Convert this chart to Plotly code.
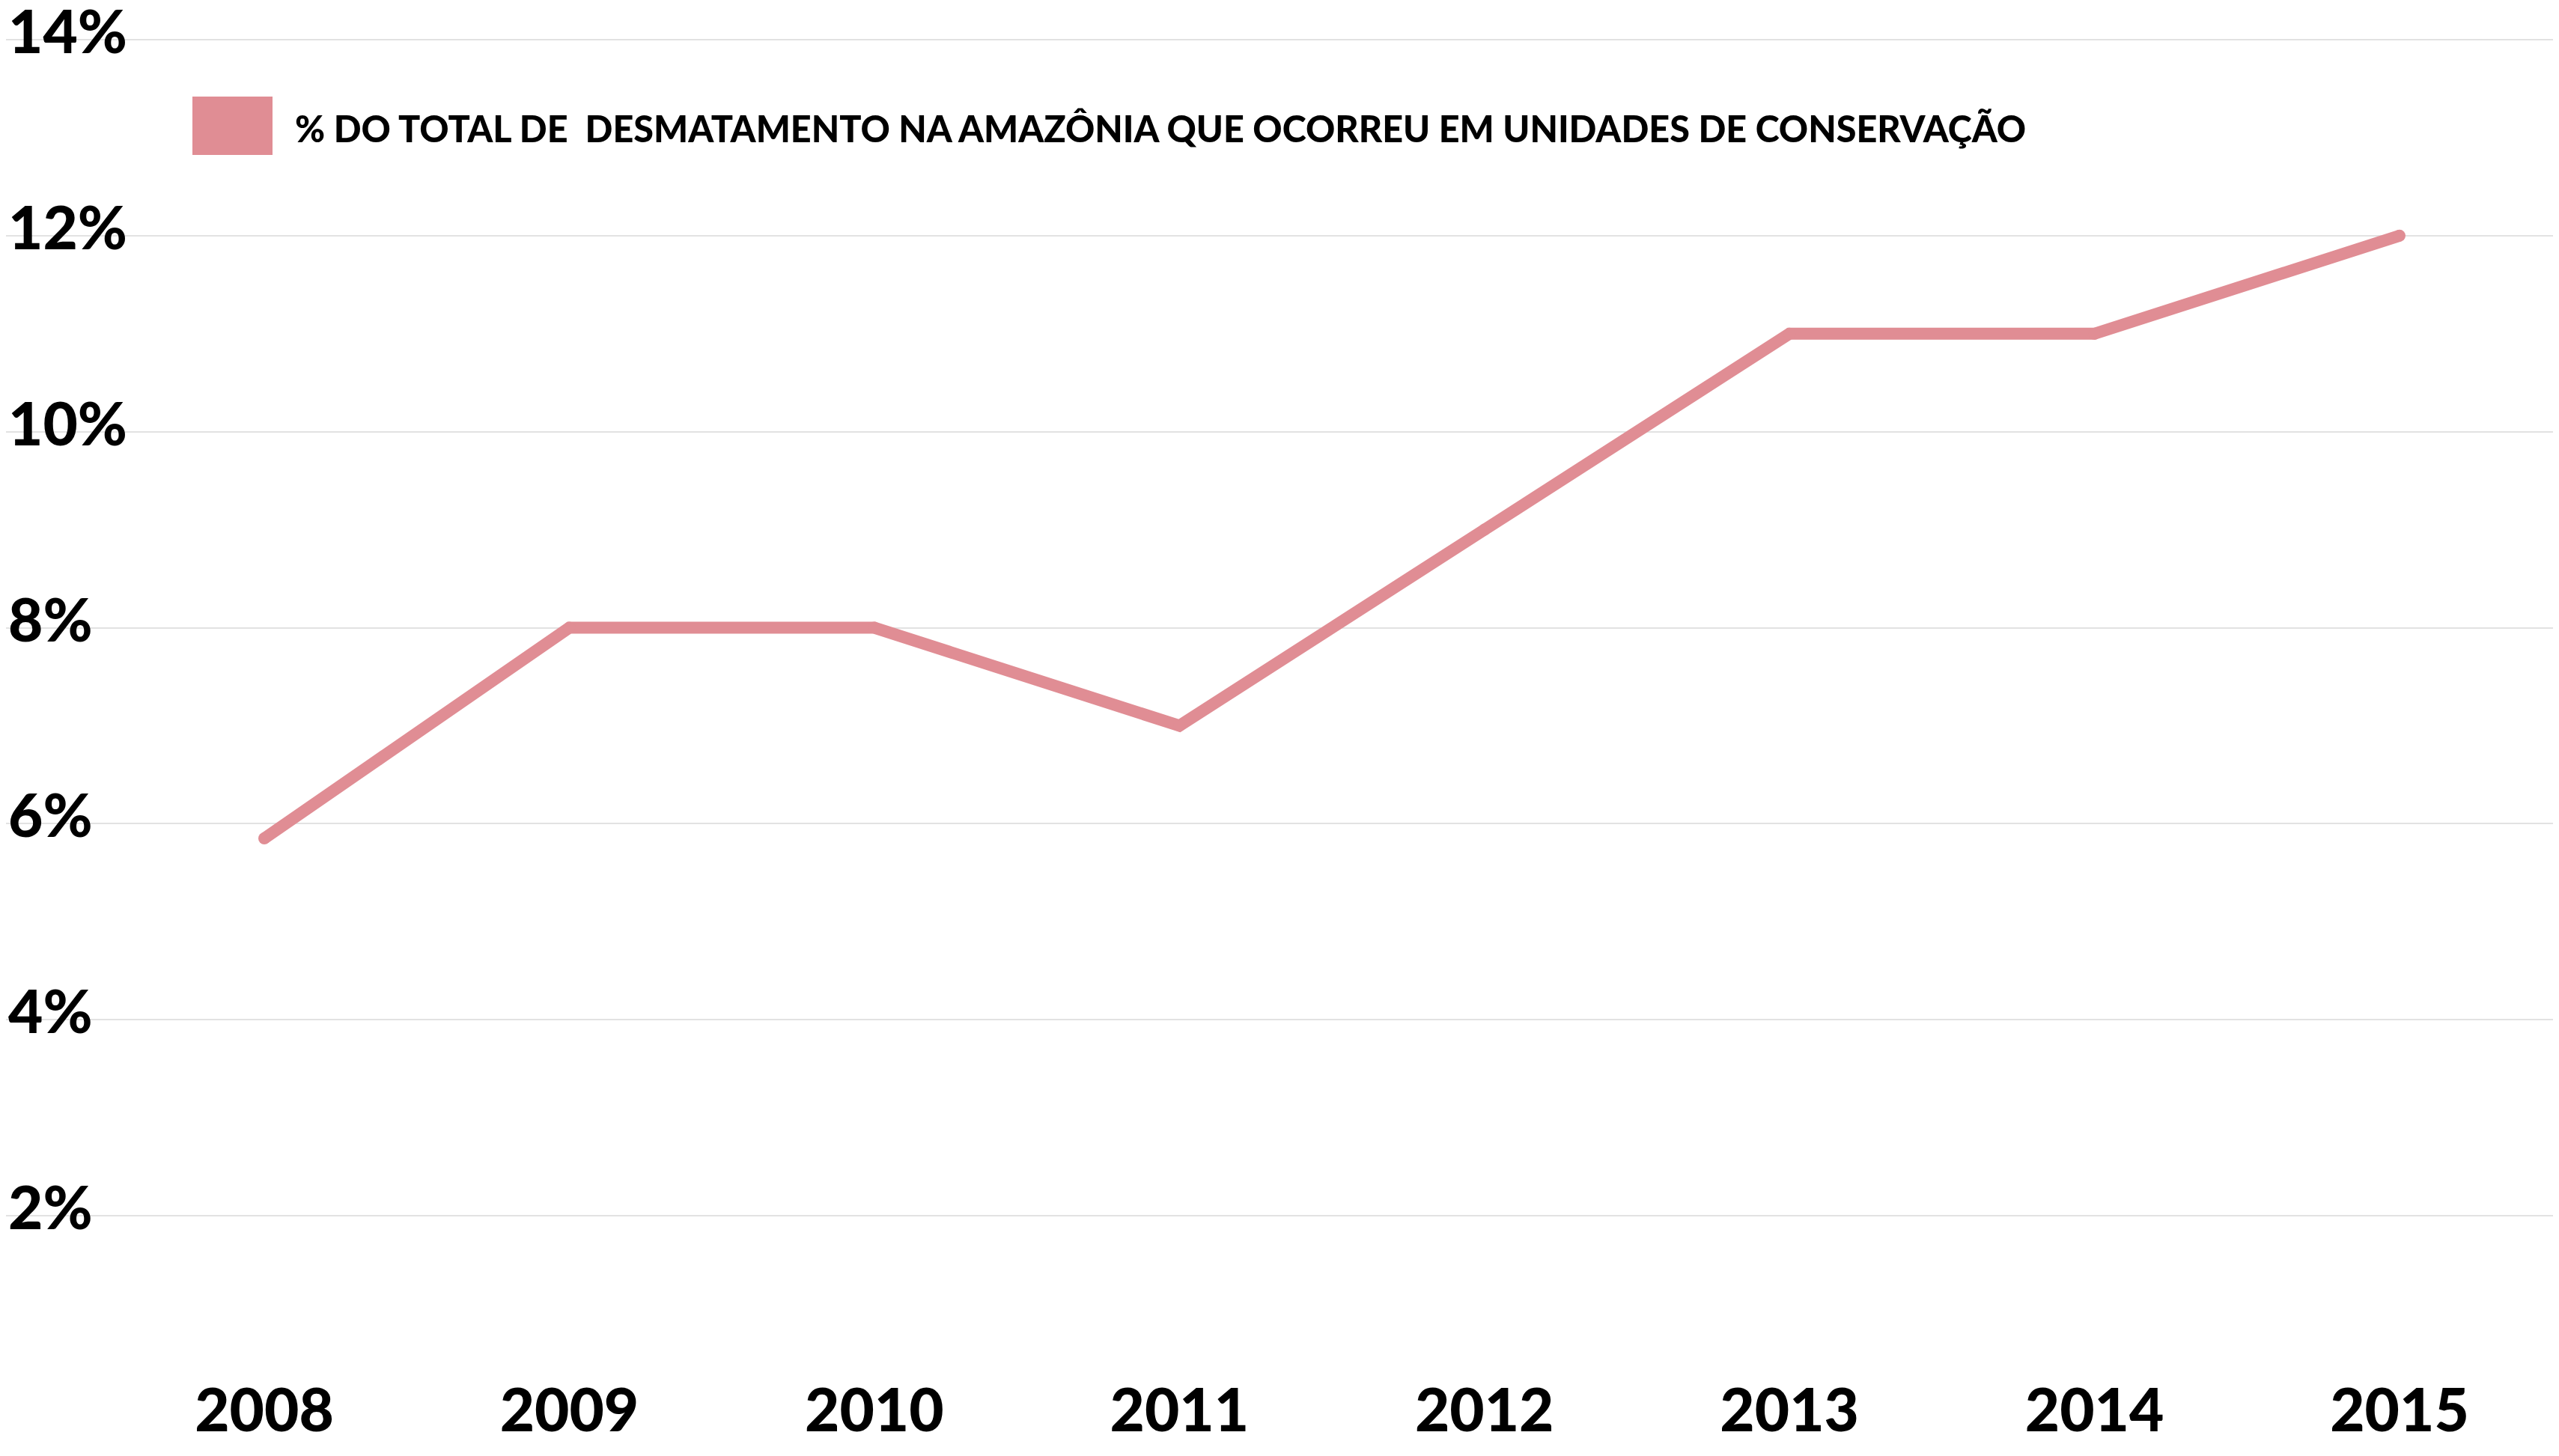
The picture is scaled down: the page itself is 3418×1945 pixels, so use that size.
import plotly.graph_objects as go

# Data
years = [2008, 2009, 2010, 2011, 2012, 2013, 2014, 2015]
pct_values = [5.85, 8, 8, 7, 9, 11, 11, 12]
x_tick_labels = ["2008", "2009", "2010", "2011", "2012", "2013", "2014", "2015"]
y_tick_values = [2, 4, 6, 8, 10, 12, 14]
y_tick_labels = ["2%", "4%", "6%", "8%", "10%", "12%", "14%"]
legend_label = "% DO TOTAL DE  DESMATAMENTO NA AMAZÔNIA QUE OCORREU EM UNIDADES DE CONSERVAÇÃO"

LINE_COLOR = "#E08D94"
FONT = "Lato"

# page body has an 8px margin; size the figure to fit the window
OFF = 8
W, H = 3418 - OFF, 1945 - OFF
MB = 145
plot_h = H - MB

fig = go.Figure()
fig.add_trace(go.Scatter(
    x=years, y=pct_values, mode="lines+markers",
    line=dict(color=LINE_COLOR, width=16),
    marker=dict(color=LINE_COLOR, size=16, line=dict(width=0)),
    showlegend=False, hoverinfo="skip",
))

# legend swatch + label (decorative legend)
sw_x0, sw_x1, sw_y0, sw_y1 = 249, 356, 121, 199
fig.add_shape(type="rect", xref="paper", yref="paper",
              x0=sw_x0 / W, x1=sw_x1 / W,
              y0=1 - sw_y1 / plot_h, y1=1 - sw_y0 / plot_h,
              fillcolor=LINE_COLOR, line=dict(width=0))
fig.add_annotation(xref="paper", yref="paper", x=384 / W, y=1 - 163 / plot_h,
                   xanchor="left", yanchor="middle", showarrow=False,
                   text=legend_label,
                   font=dict(family=FONT, size=48.5, color="#000000", weight=900))

fig.update_layout(
    width=W, height=H,
    margin=dict(l=0, r=0, t=0, b=MB, autoexpand=False),
    paper_bgcolor="white", plot_bgcolor="white",
    showlegend=False,
)
fig.update_xaxes(
    range=[2007.1532, 2015.5228],
    tickmode="array", tickvals=years, ticktext=x_tick_labels,
    showgrid=False, zeroline=False, showline=False, ticks="",
    ticklabelstandoff=31, automargin=False,
    tickfont=dict(family=FONT, size=80, color="#000000", weight=900),
)
fig.update_yaxes(
    range=[0.656, 14.344],
    tickmode="array", tickvals=y_tick_values, ticktext=y_tick_labels,
    showgrid=True, gridcolor="#e2e2e2", gridwidth=2,
    zeroline=False, showline=False, ticks="",
    ticklabelposition="inside", ticklabelshift=-10,
    ticklabeloverflow="allow", automargin=False,
    tickfont=dict(family=FONT, size=80, color="#000000", weight=900),
)

fig.write_html("out.html")
